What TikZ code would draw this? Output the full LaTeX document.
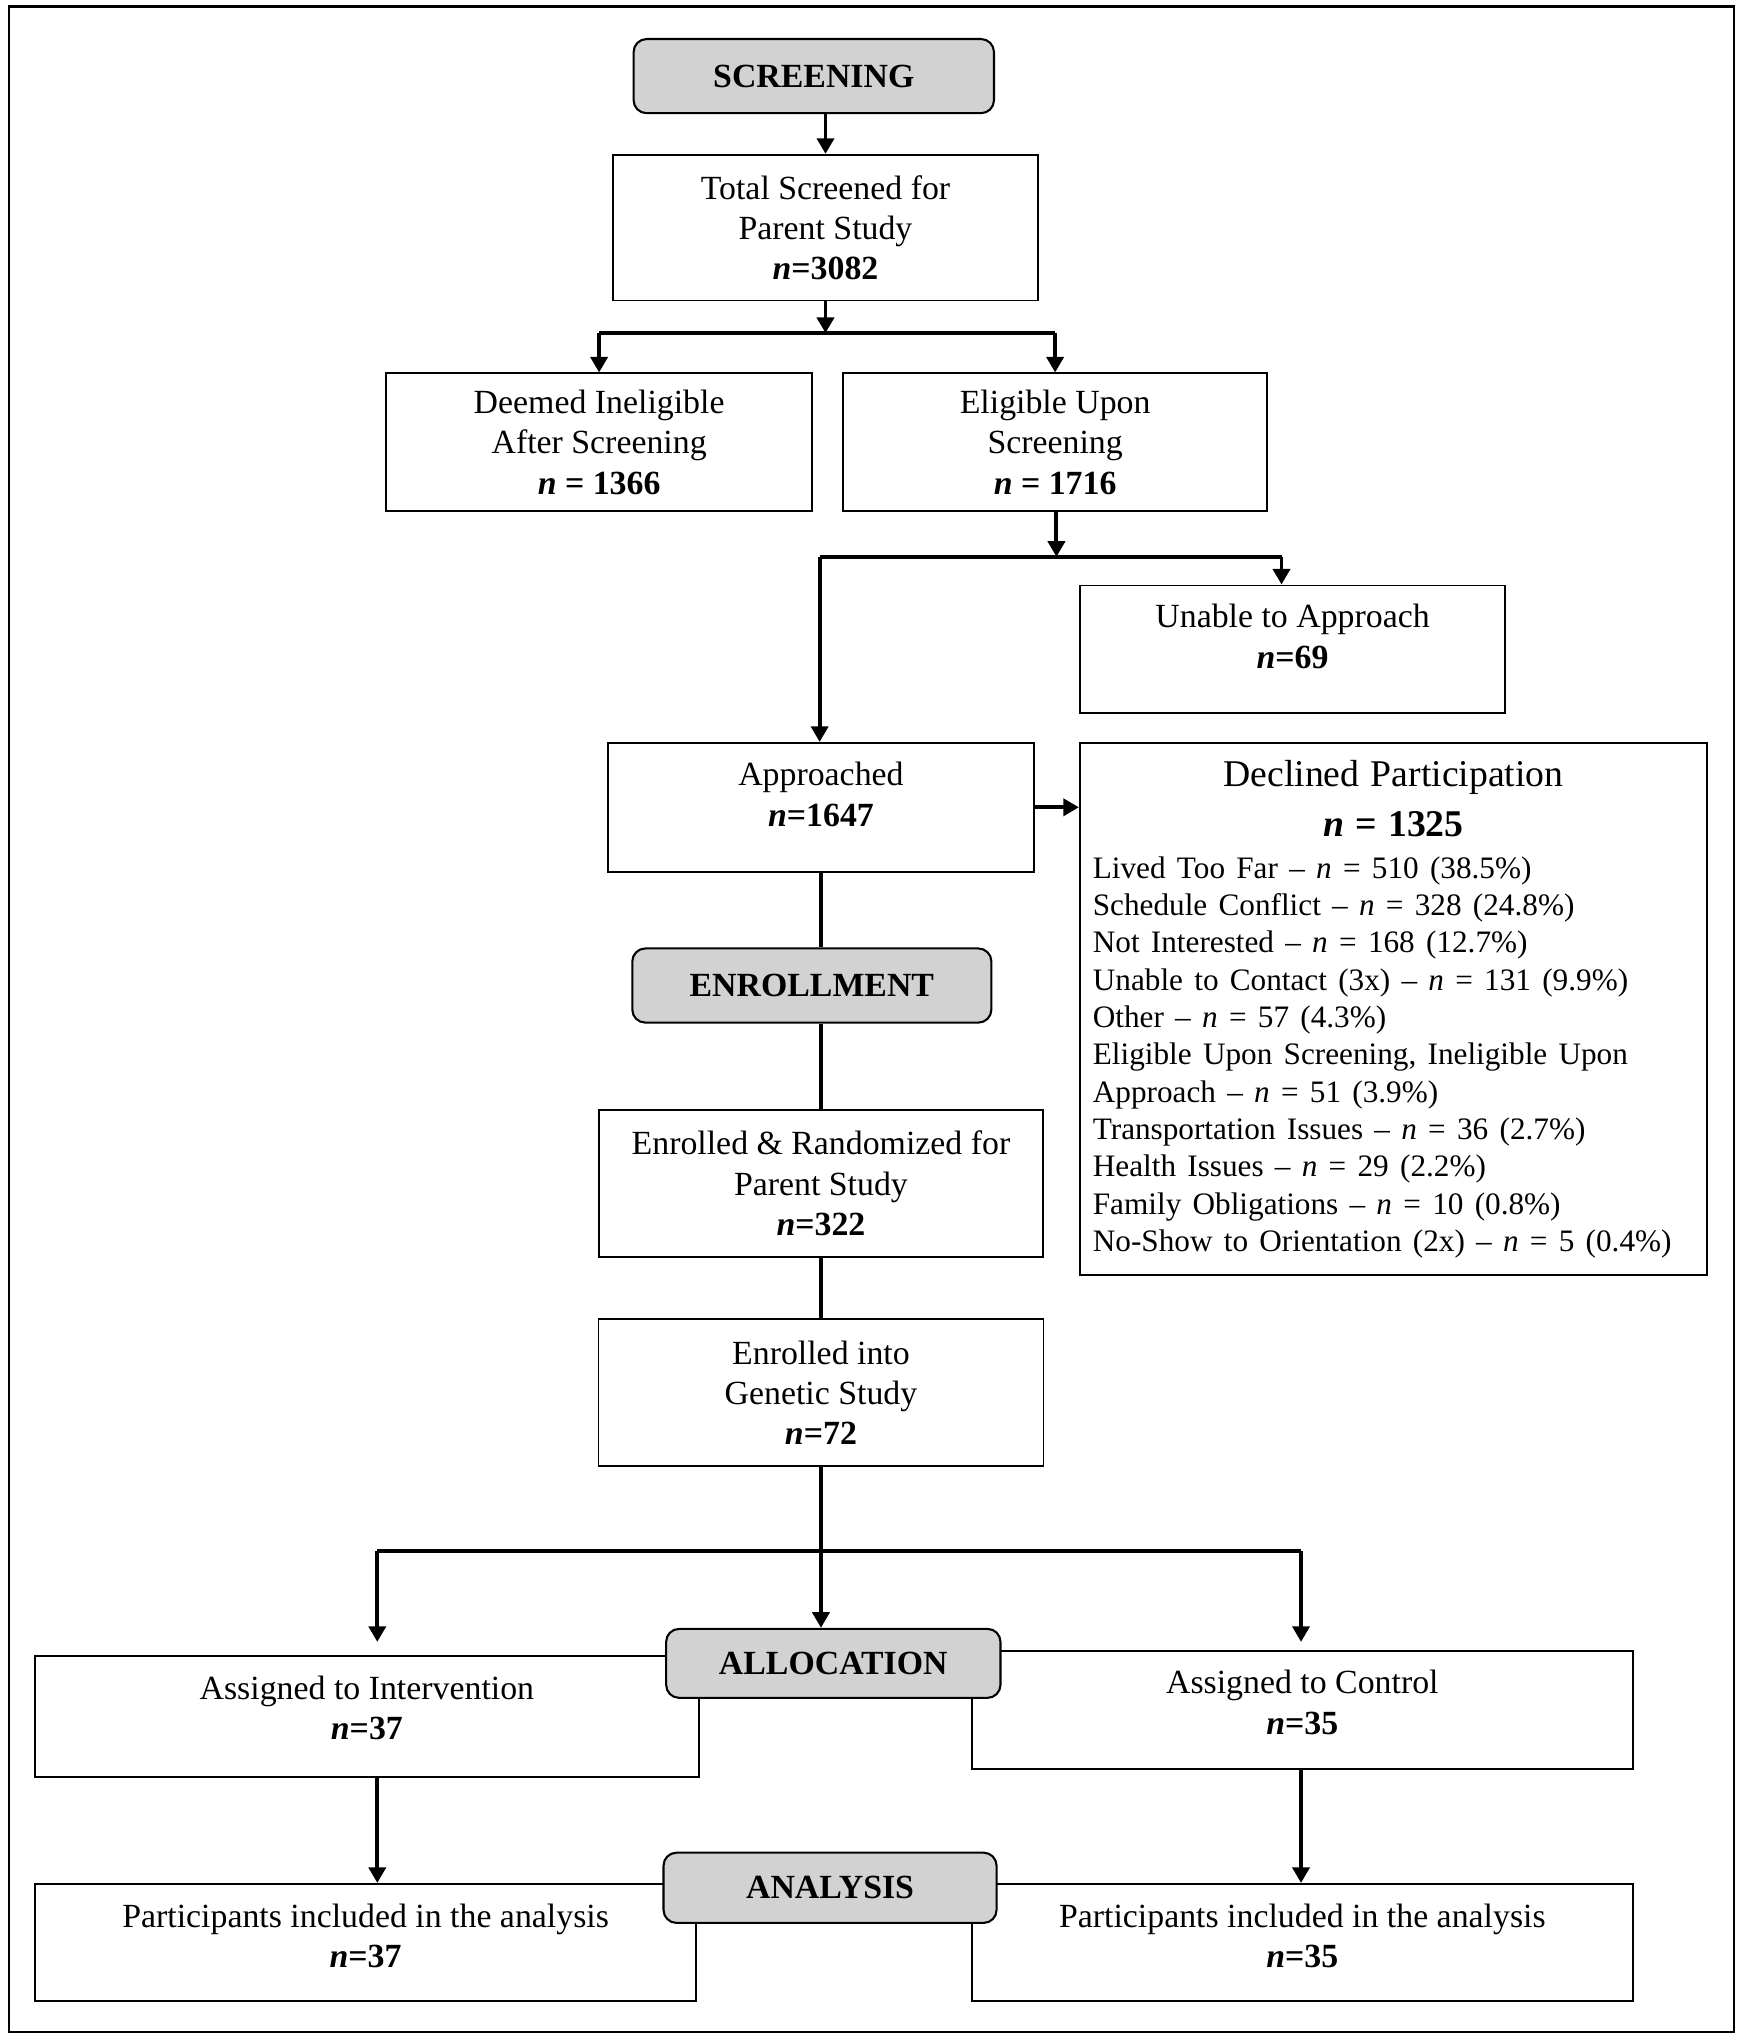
\documentclass[tikz,border=0pt]{standalone}
\usepackage{fontspec}
\setmainfont{Liberation Serif}
\usetikzlibrary{arrows.meta}

\newcommand{\nval}{\textit{n}}

\tikzset{
  box/.style={draw, line width=0.7pt, align=center, inner sep=0pt,
    font=\fontsize{13}{15.5}\selectfont},
  stage/.style={draw, line width=0.8pt, rounded corners=5pt, fill=gray!35,
    inner sep=0pt, font=\fontsize{13}{15.5}\selectfont\bfseries},
  lift/.style={text depth=#1},
  link/.style={line width=1.5pt},
  arr/.style={line width=1.5pt, -{Triangle[length=6pt,width=6.5pt]}},
}

\begin{document}
\begin{tikzpicture}[x=0.5pt, y=-0.5pt]

  % frame
  \draw[line width=0.8pt] (7,5) rectangle (1333,1562);
  \useasboundingbox (0,0) rectangle (1340,1568);

  % screening
  \node[stage, minimum width=138.5pt, minimum height=28.5pt] (screen) at (625.5,58.5) {SCREENING};
  \node[box, minimum width=163.5pt, minimum height=56pt] (total) at (634.5,175)
    {Total Screened for\\Parent Study\\\textbf{\nval=3082}};
  \node[box, minimum width=163.5pt, minimum height=53pt] (inelig) at (460.5,340)
    {Deemed Ineligible\\After Screening\\\textbf{\nval{} = 1366}};
  \node[box, minimum width=163pt, minimum height=53pt] (elig) at (811,340)
    {Eligible Upon\\Screening\\\textbf{\nval{} = 1716}};
  \node[box, lift=10pt, minimum width=163.5pt, minimum height=49pt] (unable) at (993.5,499)
    {Unable to Approach\\\textbf{\nval=69}};
  \node[box, lift=10pt, minimum width=163.5pt, minimum height=49.5pt] (approached) at (631,620.5)
    {Approached\\\textbf{\nval=1647}};
  \node[box, minimum width=241pt, minimum height=204.5pt, text width=231pt, align=left] (declined) at (1071,775.5)
    {{\centering\fontsize{14.5}{19.5}\selectfont Declined Participation\\
      \textbf{\nval{} = 1325}\par}
     \vspace{1.5pt}
     {\fontsize{12}{14.35}\selectfont
      Lived Too Far -- \nval{} = 510 (38.5\%)\\
      Schedule Conflict -- \nval{} = 328 (24.8\%)\\
      Not Interested -- \nval{} = 168 (12.7\%)\\
      Unable to Contact (3x) -- \nval{} = 131 (9.9\%)\\
      Other -- \nval{} = 57 (4.3\%)\\
      Eligible Upon Screening, Ineligible Upon\\
      Approach -- \nval{} = 51 (3.9\%)\\
      Transportation Issues -- \nval{} = 36 (2.7\%)\\
      Health Issues -- \nval{} = 29 (2.2\%)\\
      Family Obligations -- \nval{} = 10 (0.8\%)\\
      No-Show to Orientation (2x) -- \nval{} = 5 (0.4\%)\par}};

  % enrollment
  \node[stage, minimum width=138pt, minimum height=28.5pt] (enroll) at (624,757.5) {ENROLLMENT};
  \node[box, minimum width=170.5pt, minimum height=56.5pt] (randomized) at (631,909.5)
    {Enrolled \& Randomized for\\Parent Study\\\textbf{\nval=322}};
  \node[box, minimum width=171pt, minimum height=56.5pt] (genetic) at (631,1070.5)
    {Enrolled into\\Genetic Study\\\textbf{\nval=72}};

  % allocation
  \node[box, lift=7pt, minimum width=255pt, minimum height=46.5pt] (interv) at (282,1319.5)
    {Assigned to Intervention\\\textbf{\nval=37}};
  \node[box, lift=6pt, minimum width=254pt, minimum height=45.5pt] (control) at (1001,1314.5)
    {Assigned to Control\\\textbf{\nval=35}};
  \node[stage, minimum width=128.5pt, minimum height=26.5pt] (alloc) at (640.5,1278.5) {ALLOCATION};

  % analysis
  \node[box, lift=5pt, minimum width=254pt, minimum height=45pt] (partL) at (281,1493)
    {Participants included in the analysis\\\textbf{\nval=37}};
  \node[box, lift=5pt, minimum width=254pt, minimum height=45pt] (partR) at (1001,1493)
    {Participants included in the analysis\\\textbf{\nval=35}};
  \node[stage, minimum width=128pt, minimum height=27pt] (analysis) at (638,1451) {ANALYSIS};

  % connectors
  \coordinate (split1) at (634.5,256);
  \coordinate (split2) at (812,428);
  \coordinate (armA) at (630,428);
  \coordinate (armU) at (985,428);
  \coordinate (split3) at (631,1192);
  \coordinate (armL) at (290,1192);
  \coordinate (armR) at (1000,1192);
  \coordinate (tipL) at (290,1262);
  \coordinate (tipR) at (1000,1262);

  \draw[arr] (screen.south -| total) -- (total.north);
  \draw[arr] (total.south) -- (split1);
  \draw[link] (split1 -| inelig) -- (split1 -| elig);
  \draw[arr] (split1 -| inelig) -- (inelig.north);
  \draw[arr] (split1 -| elig) -- (elig.north);

  \draw[arr] (elig.south -| split2) -- (split2);
  \draw[link] (armA) -- (armU);
  \draw[arr] (armU) -- (armU |- unable.north);
  \draw[arr] (armA) -- (armA |- approached.north);
  \draw[arr] (approached.east) -- (approached.east -| declined.west);

  \draw[link] (approached.south) -- (approached.south |- enroll.north);
  \draw[link] (enroll.south -| randomized) -- (randomized.north);
  \draw[link] (randomized.south) -- (genetic.north);
  \draw[link] (genetic.south) -- (split3);
  \draw[link] (armL) -- (armR);
  \draw[arr] (armL) -- (tipL);
  \draw[arr] (armR) -- (tipR);
  \draw[arr] (split3) -- (split3 |- alloc.north);

  \draw[arr] (interv.south -| armL) -- (partL.north -| armL);
  \draw[arr] (control.south -| armR) -- (partR.north -| armR);

\end{tikzpicture}
\end{document}
